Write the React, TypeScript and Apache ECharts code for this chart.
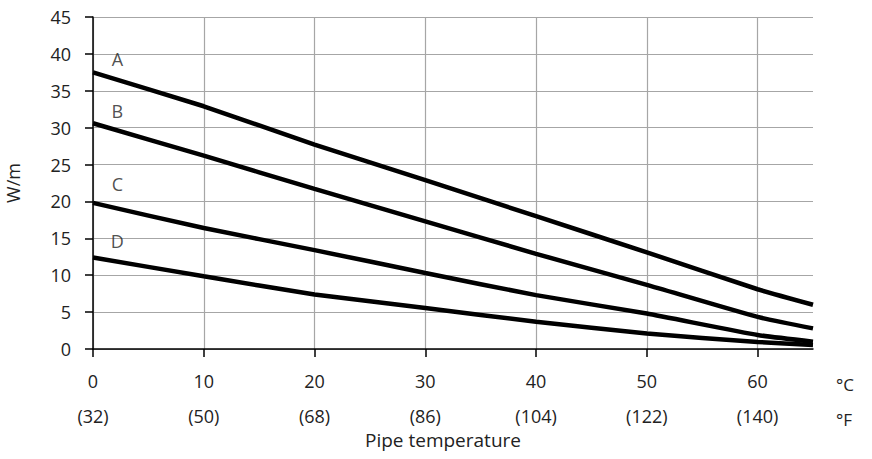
import React, { useEffect, useRef } from "react";
import * as echarts from "echarts";

const temperaturesC = [0, 10, 20, 30, 40, 50, 60, 65];
const fahrenheitLabels = ["(32)", "(50)", "(68)", "(86)", "(104)", "(122)", "(140)"];
const tickValues = [0, 10, 20, 30, 40, 50, 60];

const seriesNames = ["A", "B", "C", "D"];
const valuesA = [37.5, 32.9, 27.7, 22.9, 18.0, 13.1, 8.1, 6.0];
const valuesB = [30.6, 26.2, 21.7, 17.3, 12.9, 8.7, 4.35, 2.8];
const valuesC = [19.8, 16.4, 13.4, 10.3, 7.3, 4.8, 1.9, 1.0];
const valuesD = [12.4, 9.85, 7.4, 5.55, 3.7, 2.1, 0.95, 0.55];
const labelX = 2.2;
const labelY = [39.3, 32.3, 22.4, 14.7];

const FONT = "'Open Sans', sans-serif";
const TEXT = "#222222";

export default function App() {
  const ref = useRef<HTMLDivElement>(null);
  useEffect(() => {
    if (!ref.current) return;
    const chart = echarts.init(ref.current, undefined, { renderer: "svg" });
    const all = [valuesA, valuesB, valuesC, valuesD];
    const lineSeries = all.map((vals, i) => ({
      type: "line",
      name: seriesNames[i],
      data: temperaturesC.map((t, j) => [t, vals[j]]),
      showSymbol: false,
      smooth: 0.15,
      lineStyle: { color: "#000", width: 4.5 },
      z: 3,
    }));
    chart.setOption({
      animation: false,
      textStyle: { fontFamily: FONT },
      grid: { left: 93, right: 59, top: 17, bottom: 110, containLabel: false, outerBoundsMode: "none" },
      xAxis: [
        {
          type: "value",
          position: "bottom",
          min: 0,
          max: 65,
          interval: 10,
          axisLine: { show: true, lineStyle: { color: "#000", width: 1.5 } },
          axisTick: { show: true, length: 8, lineStyle: { color: "#000", width: 1.5 }, customValues: tickValues },
          splitLine: { show: true, lineStyle: { color: "#a6a6a6", width: 1.2 } },
          axisLabel: {
            customValues: tickValues,
            margin: 23,
            fontSize: 18,
            color: TEXT,
            fontFamily: FONT,
          },
        },
        {
          type: "value",
          position: "bottom",
          offset: 35,
          min: 0,
          max: 65,
          interval: 10,
          axisLine: { show: false },
          axisTick: { show: false },
          splitLine: { show: false },
          axisLabel: {
            customValues: tickValues,
            margin: 23,
            fontSize: 18,
            color: TEXT,
            fontFamily: FONT,
            formatter: (v: number) => {
              const idx = tickValues.indexOf(v);
              return idx >= 0 ? fahrenheitLabels[idx] : "";
            },
          },
        },
      ],
      yAxis: {
        type: "value",
        min: 0,
        max: 45,
        interval: 5,
        axisLine: { show: true, lineStyle: { color: "#000", width: 1.5 } },
        axisTick: { show: true, length: 8, lineStyle: { color: "#000", width: 1.5 } },
        splitLine: { show: true, lineStyle: { color: "#a6a6a6", width: 1.2 } },
        axisLabel: { margin: 22, fontSize: 18, color: TEXT, fontFamily: FONT },
      },
      graphic: [
        { type: "text", left: 836, top: 376, style: { text: "°C", fontSize: 17, fill: TEXT, fontFamily: FONT } },
        { type: "text", left: 836, top: 411, style: { text: "°F", fontSize: 17, fill: TEXT, fontFamily: FONT } },
        {
          type: "text",
          left: 365,
          top: 430,
          style: { text: "Pipe temperature", fontSize: 19, fill: TEXT, fontFamily: FONT },
        },
        {
          type: "text",
          x: 13,
          y: 183,
          rotation: Math.PI / 2,
          style: { text: "W/m", fontSize: 18, fill: TEXT, fontFamily: FONT, align: "center", verticalAlign: "middle" },
        },
      ],
      series: [
        ...lineSeries,
        {
          type: "scatter",
          symbolSize: 0,
          data: labelY.map((y, i) => ({ value: [labelX, y], name: seriesNames[i] })),
          label: {
            show: true,
            position: "inside",
            formatter: (p: any) => p.name,
            fontSize: 18,
            color: TEXT,
            fontFamily: FONT,
          },
          z: 4,
        },
      ],
    });
    return () => chart.dispose();
  }, []);
  return <div ref={ref} style={{ width: 872, height: 459, position: "absolute", left: 0, top: 0 }} />;
}
